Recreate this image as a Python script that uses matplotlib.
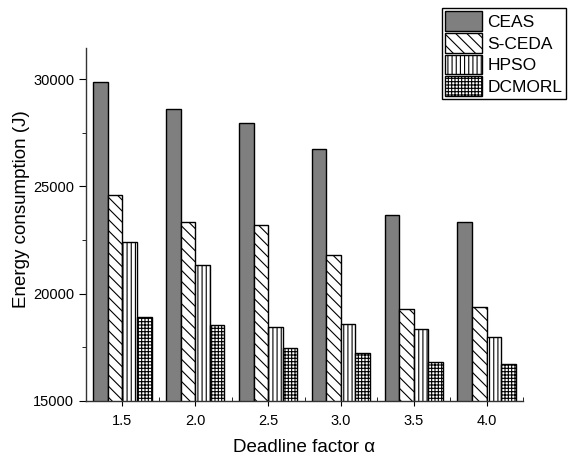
import matplotlib.pyplot as plt
import numpy as np

plt.rcParams['font.family'] = ['Liberation Sans', 'DejaVu Sans']
plt.rcParams['hatch.linewidth'] = 0.8

factors = [1.5, 2.0, 2.5, 3.0, 3.5, 4.0]
tick_labels = ['1.5', '2.0', '2.5', '3.0', '3.5', '4.0']
ceas = [29850, 28610, 27950, 26730, 23650, 23330]
sceda = [24600, 23330, 23190, 21800, 19270, 19370]
hpso = [22420, 21330, 18450, 18580, 18330, 17990]
dcmorl = [18890, 18530, 17460, 17210, 16810, 16700]

series = [
    ('CEAS', ceas, '#7f7f7f', ''),
    ('S-CEDA', sceda, 'white', '\\\\\\'),
    ('HPSO', hpso, 'white', '||||'),
    ('DCMORL', dcmorl, 'white', '+++++'),
]

fig = plt.figure(figsize=(5.68, 4.59), dpi=100)
ax = fig.add_axes([86 / 568, 1 - 400.7 / 459, (523 - 86) / 568, (400.7 - 48) / 459])

x = np.array(factors)
w = 0.1
for i, (name, vals, color, hatch) in enumerate(series):
    ax.bar(x + (i - 1.5) * w, vals, width=w, color=color, edgecolor='black',
           linewidth=1.0, hatch=hatch, label=name)

ax.set_xlim(1.25, 4.25)
ax.set_ylim(15000, 31460)
ax.set_xticks(factors)
ax.set_xticklabels(tick_labels)
ax.set_xticks(np.arange(1.25, 4.3, 0.5), minor=True)
ax.set_yticks([15000, 20000, 25000, 30000])
ax.set_yticks([17500, 22500, 27500], minor=True)

for s in ['top', 'right']:
    ax.spines[s].set_visible(False)
for s in ['left', 'bottom']:
    ax.spines[s].set_linewidth(1.0)
    ax.spines[s].set_color('#333333')

ax.tick_params(axis='x', which='major', direction='inout', length=7, labelsize=10.5, pad=6)
ax.tick_params(axis='x', which='minor', direction='in', length=3)
ax.tick_params(axis='y', which='major', direction='out', length=5, labelsize=10.5)
ax.tick_params(axis='y', which='minor', direction='out', length=3)

ax.set_xlabel('Deadline factor α', fontsize=13.5, labelpad=8)
ax.set_ylabel('Energy consumption (J)', fontsize=13.5)
ax.yaxis.set_label_coords(-0.128, 0.543)

leg = fig.legend(loc='upper right', bbox_to_anchor=(566 / 568, 1 - 8 / 459),
                 fontsize=12.5, handlelength=2.15, handleheight=1.35,
                 labelspacing=0.12, borderpad=0.2, handletextpad=0.3,
                 fancybox=False, framealpha=1, edgecolor='black', borderaxespad=0)
leg.get_frame().set_linewidth(1.0)

fig.savefig('out.png', dpi=100)
